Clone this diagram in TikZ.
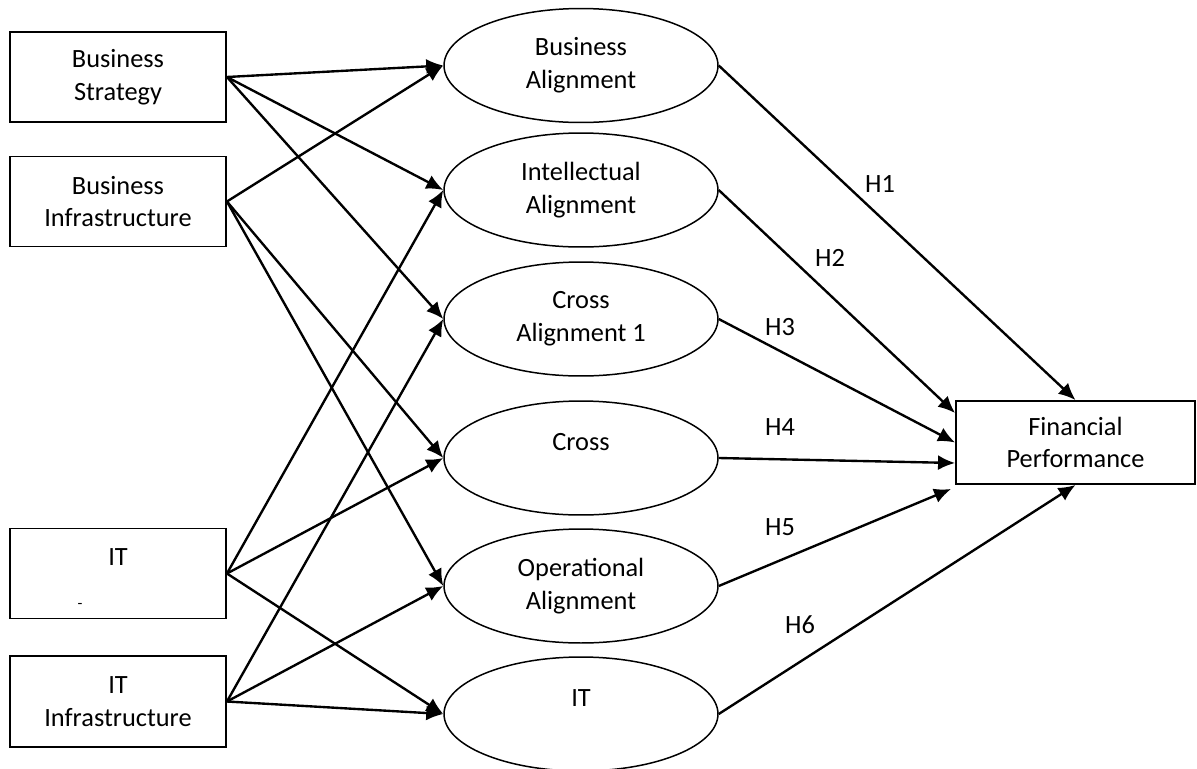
\documentclass[tikz,border=0pt]{standalone}
\usepackage{fontspec}
\setmainfont{Carlito}
\usetikzlibrary{shapes.geometric,arrows.meta,positioning}

\begin{document}
\begin{tikzpicture}[
    x=0.02cm, y=-0.02cm,
    font=\fontsize{15}{18.6}\selectfont,
    box/.style={draw, line width=1.1pt, minimum width=4.32cm, minimum height=1.8cm, align=center, inner sep=0pt},
    oval/.style={draw, ellipse, line width=0.85pt, minimum width=5.48cm, minimum height=2.28cm, align=center, inner sep=0pt},
    arrow/.style={-{Latex[length=0.34cm,width=0.3cm]}, line width=1.35pt},
    hyp/.style={inner sep=0pt}
]
    \useasboundingbox (0,0) rectangle (1197,768);

    \node[box] (bs) at (118,77) {Business\\Strategy};
    \node[box] (bi) at (118,201.5) {Business\\Infrastructure};
    \node[box] (it) at (118,573.5) {IT\\\mbox{}};
    \node[inner sep=0pt, font=\fontsize{9}{10}\selectfont] (dash) at (80,606) {-};
    \node[box, minimum height=1.82cm] (iti) at (118,701.5) {IT\\Infrastructure};

    \node[oval] (ba) at (581,65.5) {Business\\Alignment};
    \node[oval] (ia) at (581,190) {Intellectual\\Alignment};
    \node[oval] (ca) at (581,319) {Cross\\Alignment 1};
    \node[oval] (cr) at (581,458) {Cross\\\mbox{}};
    \node[oval] (op) at (581,586) {Operational\\Alignment};
    \node[oval] (ita) at (581,714) {IT\\\mbox{}};

    \node[box, minimum width=4.78cm, minimum height=1.66cm] (fp) at (1075.5,442.5) {Financial\\Performance};

    \draw[arrow] (bs.east) -- (ba.west);
    \draw[arrow] (bs.east) -- (ia.west);
    \draw[arrow] (bs.east) -- (ca.west);
    \draw[arrow] (bi.east) -- (ba.west);
    \draw[arrow] (bi.east) -- (cr.west);
    \draw[arrow] (bi.east) -- (op.west);
    \draw[arrow] (it.east) -- (ia.west);
    \draw[arrow] (it.east) -- (cr.west);
    \draw[arrow] (it.east) -- (ita.west);
    \draw[arrow] (iti.east) -- (ca.west);
    \draw[arrow] (iti.east) -- (op.west);
    \draw[arrow] (iti.east) -- (ita.west);

    \draw[arrow] (ba.east) -- (fp.north);
    \draw[arrow] (ia.east) -- ([yshift=0.59cm]fp.west);
    \draw[arrow] (ca.east) -- (fp.west);
    \draw[arrow] (cr.east) -- ([yshift=-0.41cm]fp.west);
    \draw[arrow] (op.east) -- ([xshift=-0.08cm, yshift=-0.08cm]fp.south west);
    \draw[arrow] (ita.east) -- (fp.south);

    \node[hyp] (h1) at (880,184) {H1};
    \node[hyp] (h2) at (830,258) {H2};
    \node[hyp] (h3) at (780,327) {H3};
    \node[hyp] (h4) at (780,427) {H4};
    \node[hyp] (h5) at (780,527) {H5};
    \node[hyp] (h6) at (800,625) {H6};
\end{tikzpicture}
\end{document}
